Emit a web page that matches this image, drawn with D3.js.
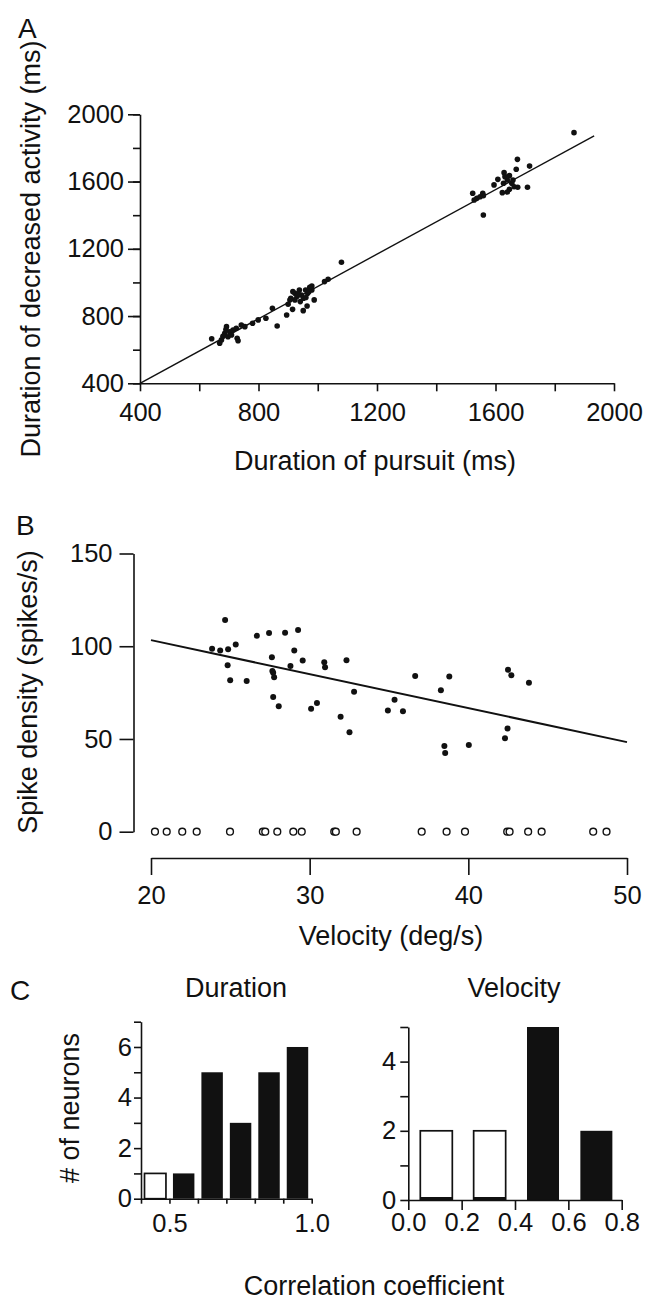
<!DOCTYPE html>
<meta charset="utf-8">
<style>
body { margin: 0; background: #fff; }
svg text { font-family: "Liberation Sans", Arial, sans-serif; fill: #111; }
.axis path, .axis line { stroke: #111; stroke-width: 1.6; }
.axis text { font-size: 25.5px; }
.title { font-size: 27px; }
.panel { font-size: 28px; }
.dot { fill: #111; }
.open { fill: #fff; stroke: #111; stroke-width: 1.4; }
.fit { fill: none; stroke: #111; }
</style>
<body>
<div id="chart"></div>

<script src="https://d3js.org/d3.v7.min.js"></script>
<script>

// A: duration of pursuit vs duration of decreased activity (ms)
var pursuitDur = [642, 669, 675, 692, 686, 697, 703, 709, 714, 728, 731, 725, 742, 754, 780, 799, 825, 847, 863, 895, 690, 680,
    915, 951, 964, 906, 900, 909, 923, 916, 930, 945, 952, 966, 980, 980, 973, 959, 938, 923, 941, 988, 960, 935, 970, 1023, 1035, 1080,
    1865, 1674, 1715, 1670, 1629, 1647, 1608, 1595, 1627, 1640, 1655, 1663, 1647, 1623, 1640, 1675, 1708, 1659, 1559, 1557, 1537, 1523, 1528, 1559, 1548, 1632];
var decreaseDur = [665, 638, 658, 737, 697, 677, 707, 687, 717, 668, 653, 727, 747, 737, 757, 777, 787, 846, 741, 806, 720, 680,
    840, 832, 860, 895, 870, 906, 935, 945, 916, 925, 906, 935, 955, 979, 971, 955, 955, 896, 886, 896, 910, 930, 945, 1005, 1019, 1120,
    1891, 1732, 1692, 1673, 1653, 1635, 1613, 1580, 1590, 1609, 1590, 1569, 1554, 1534, 1538, 1566, 1566, 1609, 1516, 1530, 1500, 1530, 1490, 1401, 1510, 1629];
var fitAx = [400, 1933];
var fitAy = [400, 1872];
var aMinor = [400, 600, 800, 1000, 1200, 1400, 1600, 1800, 2000];
var aLabels = [400, 800, 1200, 1600, 2000];

// B: velocity vs spike density
var velocity = [23.85, 24.36, 24.67, 24.86, 24.83, 24.99, 25.34, 26.03, 26.67, 27.44, 27.62, 27.65, 27.7, 27.76, 27.7, 28.05,
    28.45, 29.03, 28.79, 29.27, 29.56, 30.09, 30.46, 30.92, 30.97, 31.95, 32.32, 32.51, 32.8, 34.93, 35.35, 35.88, 36.65,
    38.27, 38.49, 38.54, 38.8, 40.03, 42.31, 42.47, 42.5, 42.71, 43.82];
var spikeDensity = [98.7, 97.7, 114.2, 98.4, 89.8, 81.7, 100.9, 81.2, 105.6, 107.2, 94.1, 86.6, 85.7, 83.3, 72.6, 67.7,
    107.3, 97.7, 89.4, 108.8, 92.3, 66.3, 69.4, 91.4, 88.7, 62.0, 92.5, 53.6, 75.4, 65.4, 71.1, 64.9, 83.9,
    76.2, 46.2, 42.5, 83.7, 46.8, 50.4, 55.7, 87.3, 84.4, 80.3];
var zeroVelocity = [20.25, 20.99, 21.97, 22.88, 24.98, 27.05, 27.2, 27.96, 28.97, 29.5, 31.55, 31.65, 32.96,
    37.06, 38.63, 39.79, 42.45, 42.6, 43.77, 44.62, 47.87, 48.71];
var fitBx = [20, 50];
var fitBy = [103.3, 48.3];
var bYTicks = [0, 50, 100, 150];
var bXTicks = [20, 30, 40, 50];

// C: histograms of correlation coefficients
var durBins = [0.4, 0.5, 0.6, 0.7, 0.8, 0.9];
var durCounts = [1, 1, 5, 3, 5, 6];
var durSig = [false, true, true, true, true, true];
var velBins = [0.0, 0.2, 0.4, 0.6];
var velCounts = [2, 2, 5, 2];
var velSig = [false, false, true, true];

var svg = d3.select("#chart").append("svg")
    .attr("width", 658)
    .attr("height", 1303);

// ---------- panel A ----------
var xA = d3.scaleLinear().domain([400, 2000]).range([140, 614]);
var yA = d3.scaleLinear().domain([400, 2000]).range([383.3, 114.3]);

svg.append("g")
    .attr("class", "axis")
    .attr("transform", "translate(0,383.3)")
    .call(d3.axisBottom(xA).tickValues(aMinor).tickSize(8).tickSizeOuter(0).tickPadding(12)
        .tickFormat(function(d) { return aLabels.indexOf(d) >= 0 ? d : ""; }));

svg.append("g")
    .attr("class", "axis")
    .attr("transform", "translate(140,0)")
    .call(d3.axisLeft(yA).tickValues(aMinor).tickSize(7).tickSizeOuter(0).tickFormat(""));

svg.append("g")
    .attr("class", "axis")
    .attr("transform", "translate(140,0)")
    .call(d3.axisLeft(yA).tickValues(aLabels).tickSize(12).tickSizeOuter(0).tickPadding(4)
        .tickFormat(d3.format("d")))
    .select(".domain").remove();

svg.append("path")
    .datum(d3.zip(fitAx, fitAy))
    .attr("class", "fit")
    .attr("stroke-width", 1.4)
    .attr("d", d3.line().x(function(d) { return xA(d[0]); }).y(function(d) { return yA(d[1]); }));

svg.selectAll(".dotA")
    .data(d3.zip(pursuitDur, decreaseDur))
  .enter().append("circle")
    .attr("class", "dot")
    .attr("cx", function(d) { return xA(d[0]); })
    .attr("cy", function(d) { return yA(d[1]); })
    .attr("r", 2.8);

svg.append("text").attr("class", "panel").attr("x", 18).attr("y", 38).text("A");

svg.append("text")
    .attr("class", "title")
    .attr("text-anchor", "middle")
    .attr("transform", "translate(40,249) rotate(-90)")
    .text("Duration of decreased activity (ms)");

svg.append("text")
    .attr("class", "title")
    .attr("text-anchor", "middle")
    .attr("x", 375).attr("y", 470)
    .text("Duration of pursuit (ms)");

// ---------- panel B ----------
var xB = d3.scaleLinear().domain([20, 50]).range([151, 627]);
var yB = d3.scaleLinear().domain([0, 150]).range([831.7, 553.5]);

svg.append("g")
    .attr("class", "axis")
    .attr("transform", "translate(133.5,0)")
    .call(d3.axisLeft(yB).tickValues(bYTicks).tickSize(14).tickSizeOuter(0).tickPadding(7));

svg.append("g")
    .attr("class", "axis")
    .attr("transform", "translate(0,858)")
    .call(d3.axisBottom(xB).tickValues(bXTicks).tickSize(17).tickSizeOuter(0).tickPadding(11));

svg.append("path")
    .datum(d3.zip(fitBx, fitBy))
    .attr("class", "fit")
    .attr("stroke-width", 2)
    .attr("d", d3.line().x(function(d) { return xB(d[0]); }).y(function(d) { return yB(d[1]); }));

svg.selectAll(".dotB")
    .data(d3.zip(velocity, spikeDensity))
  .enter().append("circle")
    .attr("class", "dot")
    .attr("cx", function(d) { return xB(d[0]); })
    .attr("cy", function(d) { return yB(d[1]); })
    .attr("r", 3);

svg.selectAll(".zero")
    .data(zeroVelocity)
  .enter().append("circle")
    .attr("class", "open")
    .attr("cx", function(d) { return xB(d); })
    .attr("cy", yB(0))
    .attr("r", 3.4);

svg.append("text").attr("class", "panel").attr("x", 16).attr("y", 535).text("B");

svg.append("text")
    .attr("class", "title")
    .attr("text-anchor", "middle")
    .attr("transform", "translate(37,692) rotate(-90)")
    .text("Spike density (spikes/s)");

svg.append("text")
    .attr("class", "title")
    .attr("text-anchor", "middle")
    .attr("x", 391).attr("y", 945)
    .text("Velocity (deg/s)");

// ---------- panel C ----------
var xL = d3.scaleLinear().domain([0.4, 1.0]).range([141, 311.7]);
var yL = d3.scaleLinear().domain([0, 7]).range([1198.7, 1021.7]);
var xR = d3.scaleLinear().domain([0, 0.8]).range([408.3, 621.7]);
var yR = d3.scaleLinear().domain([0, 5]).range([1200, 1027]);

// left histogram (duration)
svg.selectAll(".barL")
    .data(durBins)
  .enter().append("rect")
    .attr("x", function(d) { return xL(d) + 3.5; })
    .attr("width", function(d) { return xL(d + 0.1) - xL(d) - 7; })
    .attr("y", function(d, i) { return yL(durCounts[i]); })
    .attr("height", function(d, i) { return yL(0) - yL(durCounts[i]); })
    .attr("fill", function(d, i) { return durSig[i] ? "#111" : "#fff"; })
    .attr("stroke", "#111")
    .attr("stroke-width", function(d, i) { return durSig[i] ? 0 : 1.7; });

svg.append("g")
    .attr("class", "axis")
    .attr("transform", "translate(141,0)")
    .call(d3.axisLeft(yL).tickValues(d3.range(0, 8)).tickSize(7).tickSizeOuter(0).tickPadding(2)
        .tickFormat(function(d) { return d % 2 ? "" : d; }));

svg.append("g")
    .attr("class", "axis")
    .attr("transform", "translate(0,1198.7)")
    .call(d3.axisBottom(xL).tickValues([0.4, 0.5, 0.6, 0.7, 0.8, 0.9, 1.0]).tickSize(5).tickSizeOuter(0).tickPadding(10)
        .tickFormat(function(d) { return (d === 0.5 || d === 1.0) ? d3.format(".1f")(d) : ""; }));

// right histogram (velocity)
svg.selectAll(".barR")
    .data(velBins)
  .enter().append("rect")
    .attr("x", function(d) { return xR(d + 0.045); })
    .attr("width", xR(0.12) - xR(0))
    .attr("y", function(d, i) { return yR(velCounts[i]); })
    .attr("height", function(d, i) { return yR(0) - yR(velCounts[i]); })
    .attr("fill", function(d, i) { return velSig[i] ? "#111" : "#fff"; })
    .attr("stroke", "#111")
    .attr("stroke-width", function(d, i) { return velSig[i] ? 0 : 1.7; });

// dark base strip on the open bars
svg.selectAll(".baseR")
    .data(velBins.filter(function(d, i) { return !velSig[i]; }))
  .enter().append("rect")
    .attr("x", function(d) { return xR(d + 0.045); })
    .attr("width", xR(0.12) - xR(0))
    .attr("y", yR(0) - 3)
    .attr("height", 3)
    .attr("fill", "#111");

svg.append("g")
    .attr("class", "axis")
    .attr("transform", "translate(408.3,0)")
    .call(d3.axisLeft(yR).tickValues(d3.range(0, 6)).tickSize(8).tickSizeOuter(0).tickPadding(4)
        .tickFormat(function(d) { return d % 2 ? "" : d; }));

svg.append("g")
    .attr("class", "axis")
    .attr("transform", "translate(0,1200)")
    .call(d3.axisBottom(xR).tickValues([0, 0.2, 0.4, 0.6, 0.8]).tickSize(10).tickSizeOuter(0).tickPadding(3)
        .tickFormat(d3.format(".1f")));

svg.append("text").attr("class", "panel").attr("x", 10).attr("y", 1000).text("C");

svg.append("text")
    .attr("class", "title")
    .attr("text-anchor", "middle")
    .attr("x", 236).attr("y", 997)
    .text("Duration");

svg.append("text")
    .attr("class", "title")
    .attr("text-anchor", "middle")
    .attr("x", 514).attr("y", 997)
    .text("Velocity");

svg.append("text")
    .attr("class", "title")
    .attr("text-anchor", "middle")
    .attr("transform", "translate(79,1108) rotate(-90)")
    .text("# of neurons");

svg.append("text")
    .attr("class", "title")
    .attr("text-anchor", "middle")
    .attr("x", 374).attr("y", 1295)
    .text("Correlation coefficient");

</script>
</body>
